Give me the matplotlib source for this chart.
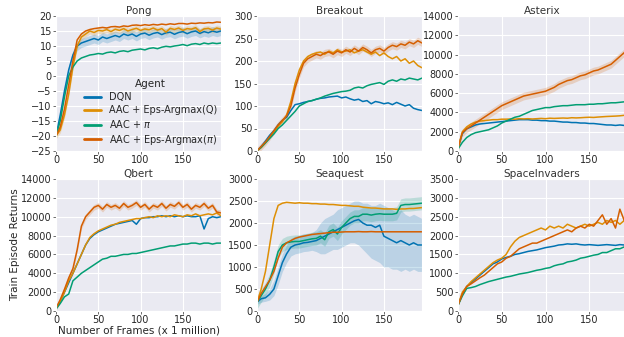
import numpy as np
import matplotlib
matplotlib.use("Agg")
import matplotlib.pyplot as plt
import seaborn as sns

# frames (x 1 million)
frames = list(range(0, 200, 5))

agents = ["DQN", "AAC + Eps-Argmax(Q)", r"AAC + $\pi$", r"AAC + Eps-Argmax($\pi$)"]

pong_dqn = [-20, -13, -5, 2, 7, 10, 11, 11.5, 12, 12.5, 12, 13, 12.5, 13, 13.5, 13, 14, 13.5, 14, 13.2,
            14, 14.3, 13.6, 14.2, 14.5, 13.8, 14.4, 14.6, 13.9, 14.5, 14.8, 14.1, 14.7, 15, 14.2, 14.8, 14.4, 15, 14.6, 15]
pong_q = [-20, -18, -13, -6, 3, 10, 13, 14, 15, 14.5, 15.2, 15, 15.5, 14.8, 15.6, 15.2, 15.8, 15, 15.5, 15.9,
          15.2, 15.7, 15.4, 16, 15.3, 15.8, 14.6, 15.9, 15.5, 16, 15.2, 15.8, 15.6, 16.1, 14.8, 15.7, 15.9, 15.3, 16, 15.6]
pong_pi = [-20, -15, -7, 0, 3, 5, 6, 6.5, 7, 7.2, 7.5, 7.3, 7.8, 8, 7.7, 8.2, 8.4, 8.1, 8.6, 8.8,
           9, 8.7, 9.2, 9.4, 9.1, 9.6, 9.9, 9.7, 10, 10.2, 10.5, 10.1, 10.6, 10.8, 10.5, 11, 10.7, 11, 10.8, 11]
pong_pi_eps = [-20, -17, -11, -3, 5, 12, 14, 15, 15.5, 15.8, 16, 16.2, 16, 16.4, 16.5, 16.3, 16.7, 16.5, 16.9, 17,
               16.8, 17.1, 16.9, 17.2, 17, 17.3, 17.1, 17.4, 17.2, 17.5, 17.5, 17.3, 17.6, 17.5, 17.7, 17.6, 17.8, 17.7, 18, 17.9]

breakout_dqn = [0, 10, 22, 35, 45, 58, 68, 75, 90, 103, 105, 108, 110, 112, 115, 117, 118, 120, 121, 122,
                118, 120, 116, 113, 115, 110, 112, 105, 110, 108, 105, 107, 103, 108, 104, 100, 103, 95, 92, 90]
breakout_q = [0, 8, 18, 30, 42, 55, 65, 80, 110, 150, 180, 200, 210, 215, 218, 220, 215, 222, 218, 225,
              220, 222, 225, 218, 222, 225, 220, 215, 220, 212, 218, 210, 205, 210, 200, 205, 195, 200, 190, 185]
breakout_pi = [0, 8, 18, 28, 38, 50, 58, 68, 78, 88, 100, 105, 110, 112, 115, 118, 122, 125, 128, 130,
               132, 133, 135, 140, 142, 140, 145, 148, 150, 152, 148, 155, 158, 155, 160, 158, 162, 160, 158, 162]
breakout_pi_eps = [0, 10, 20, 32, 45, 58, 68, 78, 100, 140, 170, 195, 205, 210, 215, 212, 218, 220, 215, 222,
                   218, 225, 220, 228, 222, 230, 225, 218, 225, 228, 222, 230, 235, 232, 238, 235, 242, 238, 245, 240]

asterix_dqn = [300, 1800, 2300, 2500, 2700, 2800, 2850, 2900, 2950, 3000, 3050, 3100, 3150, 3200, 3250, 3250, 3250, 3200, 3200, 3150,
               3150, 3100, 3100, 3050, 3000, 3000, 2950, 2950, 2900, 2900, 2850, 2850, 2800, 2750, 2700, 2700, 2650, 2700, 2650, 2600]
asterix_q = [300, 2000, 2500, 2800, 3000, 3100, 3150, 3200, 3250, 3250, 3300, 3300, 3320, 3300, 3350, 3330, 3350, 3320, 3350, 3380,
             3350, 3400, 3380, 3400, 3420, 3400, 3450, 3430, 3450, 3480, 3500, 3480, 3520, 3550, 3580, 3600, 3620, 3650, 3700, 3720]
asterix_pi = [200, 900, 1400, 1700, 1900, 2000, 2100, 2200, 2400, 2600, 2900, 3100, 3300, 3500, 3600, 3800, 4000, 4200, 4300, 4400,
              4500, 4500, 4600, 4650, 4700, 4700, 4750, 4800, 4800, 4800, 4850, 4850, 4900, 4900, 4950, 5000, 5000, 5050, 5100, 5100]
asterix_pi_eps = [300, 1900, 2300, 2600, 2900, 3200, 3500, 3800, 4100, 4400, 4700, 4900, 5100, 5300, 5500, 5700, 5800, 5900, 6000, 6100,
                  6200, 6400, 6600, 6900, 7100, 7300, 7400, 7600, 7800, 7900, 8100, 8300, 8400, 8600, 8800, 9000, 9400, 9800, 10200, 10500]

qbert_dqn = [300, 1000, 2000, 3000, 4000, 5000, 6000, 7000, 7700, 8100, 8400, 8600, 8800, 9000, 9200, 9300, 9400, 9500, 9600, 9200,
             9800, 9900, 9900, 10000, 10000, 10100, 10000, 10100, 10000, 10100, 10000, 10100, 10000, 10000, 10100, 8700, 9800, 10000, 9900, 10000]
qbert_q = [300, 1000, 2000, 3200, 4000, 5000, 6000, 7000, 7800, 8200, 8500, 8700, 8900, 9100, 9200, 9400, 9500, 9600, 9700, 9800,
           9800, 9900, 10000, 9900, 10100, 10000, 10100, 10000, 10200, 10100, 10000, 10200, 10100, 10300, 10100, 10200, 10300, 10200, 10400, 10100]
qbert_pi = [200, 800, 1500, 1800, 3200, 3600, 4000, 4300, 4600, 4900, 5200, 5500, 5600, 5800, 5800, 5900, 6000, 6000, 6100, 6100,
            6200, 6300, 6400, 6500, 6600, 6700, 6800, 6900, 6900, 7000, 7100, 7100, 7200, 7200, 7100, 7200, 7200, 7100, 7200, 7200]
qbert_pi_eps = [300, 1200, 2300, 3500, 4500, 6500, 9000, 10000, 10500, 11000, 11200, 10800, 11300, 11000, 11200, 10900, 11400, 11000, 11200, 11500,
                11000, 11300, 10800, 11200, 11000, 11400, 10900, 11300, 11100, 11500, 11000, 11300, 10800, 11200, 11000, 11400, 10900, 11200, 10500, 10400]

seaquest_dqn = [200, 280, 300, 380, 500, 800, 1100, 1300, 1450, 1500, 1520, 1550, 1560, 1580, 1600, 1650, 1700, 1750, 1800, 1850,
                1900, 1950, 2000, 2050, 2080, 2000, 1950, 1950, 1900, 1950, 1700, 1650, 1600, 1550, 1600, 1550, 1500, 1550, 1500, 1500]
seaquest_dqn_lo = [150, 200, 220, 250, 350, 600, 900, 1100, 1250, 1300, 1320, 1350, 1360, 1380, 1350, 1300, 1300, 1350, 1400, 1400,
                   1450, 1500, 1550, 1550, 1500, 1400, 1300, 1200, 1150, 1100, 1000, 1000, 950, 950, 900, 950, 900, 950, 900, 900]
seaquest_dqn_hi = [250, 350, 400, 500, 700, 1000, 1300, 1500, 1650, 1700, 1720, 1750, 1760, 1780, 1850, 2000, 2100, 2150, 2200, 2300,
                   2350, 2400, 2450, 2500, 2500, 2450, 2450, 2400, 2400, 2450, 2400, 2350, 2300, 2250, 2300, 2200, 2150, 2200, 2150, 2100]
seaquest_q = [200, 500, 900, 1500, 2100, 2400, 2450, 2470, 2460, 2450, 2460, 2450, 2450, 2440, 2440, 2430, 2430, 2420, 2420, 2410,
              2400, 2400, 2390, 2380, 2380, 2360, 2350, 2340, 2340, 2330, 2320, 2320, 2320, 2310, 2320, 2320, 2330, 2330, 2340, 2350]
seaquest_pi = [200, 350, 500, 700, 1000, 1350, 1500, 1550, 1570, 1580, 1580, 1600, 1620, 1640, 1650, 1700, 1620, 1800, 1850, 1750,
               1900, 2000, 2100, 2150, 2150, 2200, 2200, 2180, 2200, 2210, 2200, 2200, 2200, 2220, 2400, 2420, 2420, 2430, 2440, 2450]
seaquest_pi_eps = [200, 400, 550, 700, 900, 1200, 1450, 1550, 1600, 1650, 1680, 1700, 1720, 1740, 1750, 1760, 1770, 1780, 1790, 1790,
                   1795, 1800, 1800, 1800, 1805, 1800, 1800, 1805, 1800, 1800, 1800, 1800, 1800, 1800, 1800, 1800, 1800, 1800, 1800, 1800]

space_dqn = [150, 450, 650, 750, 850, 950, 1050, 1150, 1250, 1300, 1380, 1420, 1450, 1500, 1520, 1550, 1580, 1600, 1620, 1650,
             1680, 1700, 1720, 1750, 1760, 1780, 1770, 1780, 1760, 1750, 1760, 1750, 1740, 1750, 1760, 1750, 1740, 1760, 1750, 1750]
space_q = [150, 500, 650, 780, 880, 980, 1080, 1180, 1280, 1350, 1400, 1500, 1700, 1850, 1950, 2000, 2050, 2100, 2150, 2200,
           2150, 2250, 2200, 2250, 2200, 2300, 2250, 2200, 2250, 2300, 2250, 2300, 2350, 2300, 2400, 2350, 2400, 2300, 2400, 2350]
space_pi = [150, 400, 600, 620, 650, 700, 740, 780, 810, 840, 870, 900, 920, 950, 980, 1000, 1020, 1050, 1080, 1100,
            1130, 1150, 1200, 1230, 1250, 1300, 1320, 1350, 1400, 1420, 1450, 1480, 1500, 1550, 1550, 1600, 1650, 1650, 1700, 1700]
space_pi_eps = [150, 450, 650, 720, 800, 880, 950, 1050, 1150, 1250, 1300, 1400, 1450, 1550, 1650, 1700, 1750, 1800, 1800, 1850,
                1900, 1950, 2000, 2050, 2100, 2150, 2100, 2200, 2250, 2200, 2300, 2250, 2400, 2550, 2300, 2450, 2200, 2700, 2400, 2500]

games = [
    ("Pong", [pong_dqn, pong_q, pong_pi, pong_pi_eps], (-25, 20), 5),
    ("Breakout", [breakout_dqn, breakout_q, breakout_pi, breakout_pi_eps], (0, 300), 50),
    ("Asterix", [asterix_dqn, asterix_q, asterix_pi, asterix_pi_eps], (0, 14000), 2000),
    ("Qbert", [qbert_dqn, qbert_q, qbert_pi, qbert_pi_eps], (0, 14000), 2000),
    ("Seaquest", [seaquest_dqn, seaquest_q, seaquest_pi, seaquest_pi_eps], (0, 3000), 500),
    ("SpaceInvaders", [space_dqn, space_q, space_pi, space_pi_eps], (0, 3500), 500),
]

# rough half-width of the shaded spread for a few runs
spread = {("Pong", 0): 1.5, ("Pong", 1): 1.0, ("Asterix", 3): 400, ("Seaquest", 2): 150,
          ("Breakout", 3): 8, ("Qbert", 3): 300}

sns.set_style("darkgrid")
plt.rcParams["font.family"] = ["DejaVu Sans"]
colors = sns.color_palette("colorblind")

fig = plt.figure(figsize=(6.24, 3.37), dpi=100)
W, H = 624, 337
lefts = [56, 257, 458]
widths = [165, 165, 168]
xmax = [195, 195, 192]
rows = [(151, 135), (311, 132)]

x = np.array(frames)
for i, (name, series, ylim, ystep) in enumerate(games):
    r, c = divmod(i, 3)
    bottom, h = rows[r]
    ax = fig.add_axes([lefts[c] / W, (H - bottom) / H, widths[c] / W, h / H])
    for k, ys in enumerate(series):
        ys = np.array(ys, dtype=float)
        ax.plot(x, ys, color=colors[k], lw=1.1, label=agents[k])
        if (name, k) in spread:
            s = spread[(name, k)]
            ax.fill_between(x, ys - s, ys + s, color=colors[k], alpha=0.2, lw=0)
    if name == "Seaquest":
        ax.fill_between(x, seaquest_dqn_lo, seaquest_dqn_hi, color=colors[0], alpha=0.2, lw=0)
    ax.set_xlim(0, xmax[c])
    ax.set_ylim(*ylim)
    ax.set_xticks([0, 50, 100, 150])
    ax.set_yticks(np.arange(ylim[0], ylim[1] + ystep / 2, ystep))
    ax.tick_params(labelsize=7, length=2, width=0.6, color="#555555", pad=1, left=True, bottom=True)
    ax.set_title(name, fontsize=7.5, pad=1.5, color="#333333")
    if name == "Qbert":
        ax.set_ylabel("Train Episode Returns", fontsize=7.5, labelpad=1)
        ax.set_xlabel("Number of Frames (x 1 million)", fontsize=7.5, labelpad=0)
    if name == "Pong":
        leg = ax.legend(title="Agent", loc="lower right", bbox_to_anchor=(1.02, -0.02), frameon=False,
                        fontsize=7, title_fontsize=7.5, labelspacing=0.3, handlelength=1.8, handletextpad=0.8,
                        borderpad=0.2)
        for ln in leg.get_lines():
            ln.set_linewidth(2)

fig.savefig("out.png", dpi=100)
